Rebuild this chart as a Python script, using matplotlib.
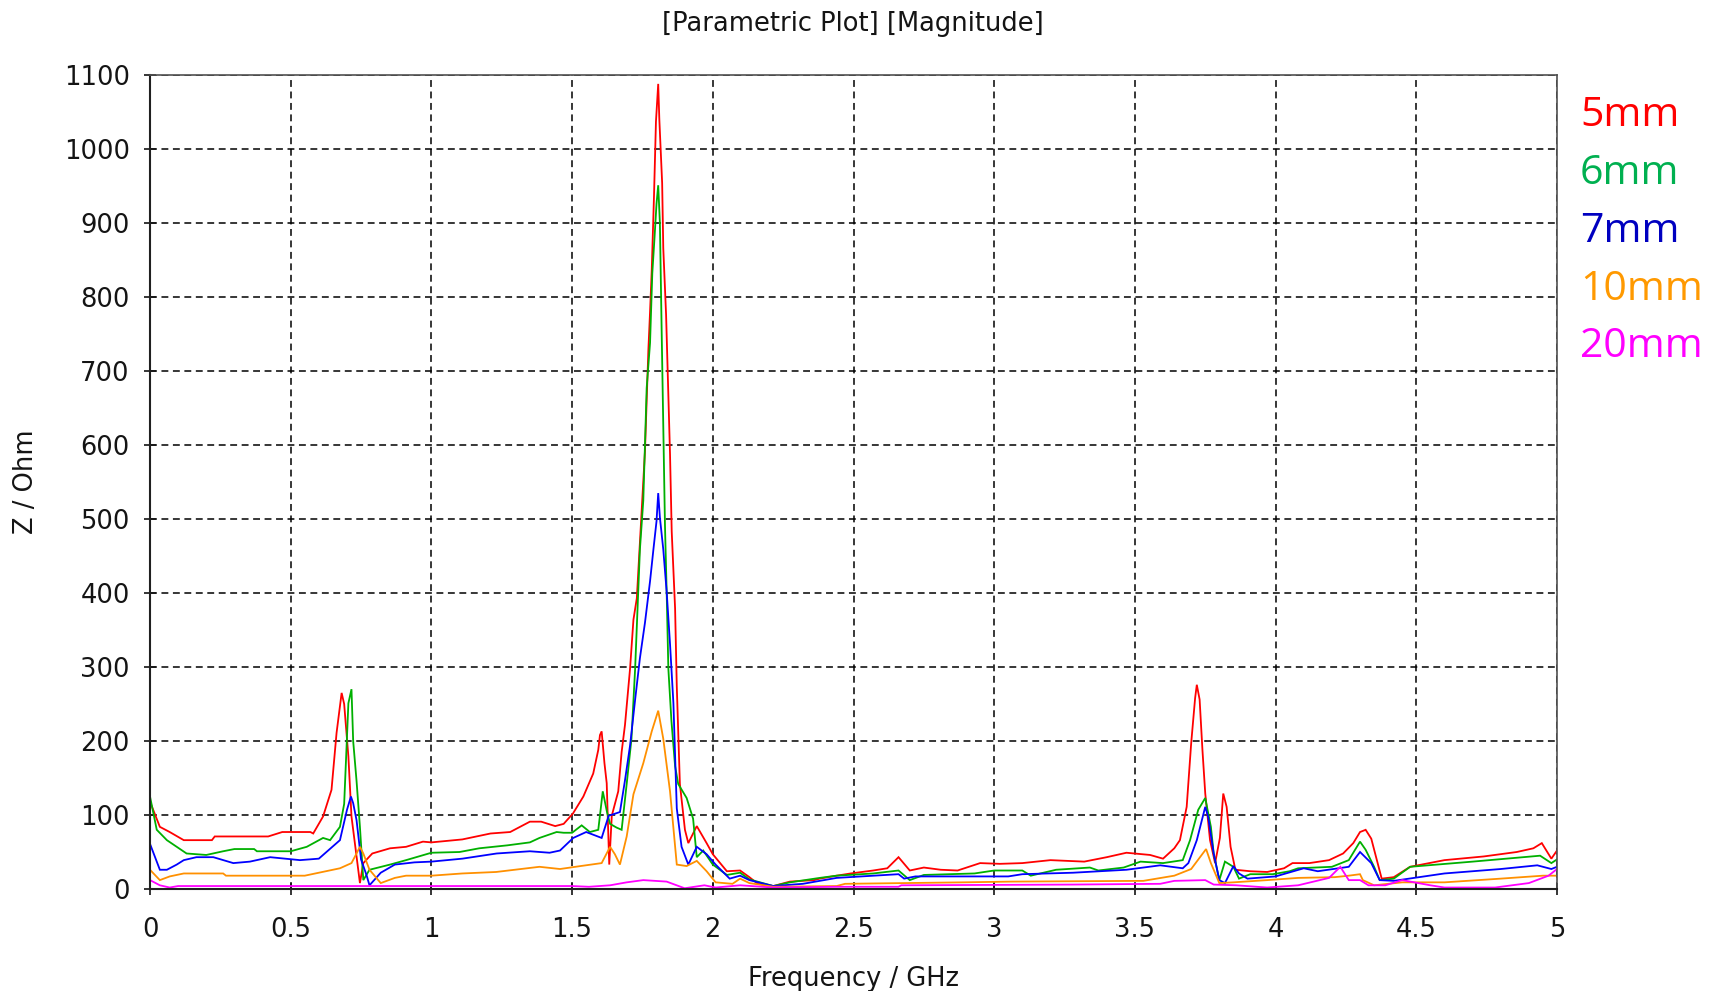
import matplotlib
matplotlib.use("Agg")
import matplotlib.pyplot as plt

# Impedance magnitude |Z| (Ohm) versus frequency (GHz) for several spacings
freq_5mm = [0.0, 0.035, 0.07, 0.12, 0.22, 0.23, 0.42, 0.47, 0.57, 0.58, 0.615, 0.645, 0.663, 0.681, 0.69,
            0.705, 0.716, 0.746, 0.758, 0.79, 0.853, 0.91, 0.97, 1.0, 1.11, 1.21, 1.28, 1.35, 1.39, 1.44,
            1.47, 1.503, 1.54, 1.575, 1.593, 1.599, 1.605, 1.615, 1.623, 1.632, 1.641, 1.664, 1.676, 1.688,
            1.706, 1.718, 1.73, 1.741, 1.759, 1.771, 1.777, 1.783, 1.791, 1.798, 1.806, 1.81, 1.82, 1.824,
            1.834, 1.848, 1.854, 1.866, 1.872, 1.883, 1.901, 1.913, 1.943, 1.978, 2.0, 2.05, 2.097, 2.13,
            2.16, 2.215, 2.274, 2.36, 2.38, 2.44, 2.49, 2.57, 2.62, 2.66, 2.7, 2.75, 2.81, 2.87, 2.95, 3.02,
            3.10, 3.2, 3.32, 3.4, 3.47, 3.554, 3.60, 3.64, 3.66, 3.684, 3.70, 3.714, 3.72, 3.73, 3.74, 3.75,
            3.767, 3.785, 3.802, 3.814, 3.826, 3.84, 3.857, 3.91, 3.97, 4.03, 4.06, 4.12, 4.19, 4.24, 4.276,
            4.3, 4.32, 4.34, 4.36, 4.377, 4.42, 4.478, 4.6, 4.74, 4.857, 4.916, 4.946, 4.98, 5.0]
z_5mm = [118, 84, 77, 66, 66, 71, 71, 77, 77, 75, 98, 134, 211, 265, 250,
         179, 98, 8, 35, 48, 55, 57, 64, 63, 67, 75, 77, 91, 91, 85,
         88, 102, 125, 156, 188, 208, 213, 170, 143, 33, 99, 132, 185, 222,
         298, 364, 393, 468, 592, 728, 780, 836, 936, 1037, 1088, 1040, 954, 866,
         776, 587, 483, 379, 274, 142, 80, 62, 85, 62, 47, 24, 25, 16,
         7, 4, 10, 12, 14, 18, 21, 25, 28, 43, 25, 29, 26, 25, 35, 34,
         35, 39, 37, 43, 49, 46, 41, 55, 66, 111, 197, 258, 276, 256, 188, 129,
         66, 35, 69, 129, 111, 57, 26, 24, 23, 28, 35, 35, 39, 48, 62,
         77, 80, 68, 39, 14, 16, 30, 39, 44, 50, 55, 62, 41, 52]

freq_6mm = [0.0, 0.024, 0.06, 0.095, 0.13, 0.2, 0.26, 0.3, 0.37, 0.38, 0.5, 0.557, 0.615, 0.64, 0.675,
            0.69, 0.705, 0.716, 0.722, 0.734, 0.746, 0.758, 0.78, 0.853, 0.91, 1.0, 1.1, 1.17, 1.27, 1.35,
            1.384, 1.445, 1.47, 1.5, 1.534, 1.563, 1.593, 1.609, 1.624, 1.635, 1.658, 1.676, 1.694, 1.711,
            1.724, 1.741, 1.753, 1.765, 1.777, 1.785, 1.793, 1.80, 1.806, 1.812, 1.818, 1.83, 1.836, 1.842,
            1.853, 1.866, 1.877, 1.907, 1.93, 1.943, 1.966, 2.0, 2.05, 2.097, 2.13, 2.215, 2.274, 2.38,
            2.44, 2.57, 2.66, 2.7, 2.75, 2.93, 3.0, 3.1, 3.13, 3.22, 3.34, 3.37, 3.46, 3.52, 3.6, 3.67,
            3.696, 3.725, 3.75, 3.77, 3.78, 3.8, 3.82, 3.85, 3.87, 3.91, 3.99, 4.05, 4.08, 4.2, 4.26, 4.3,
            4.32, 4.35, 4.37, 4.42, 4.478, 4.7, 4.94, 4.98, 5.0]
z_6mm = [125, 80, 66, 57, 48, 46, 51, 54, 54, 51, 51, 57, 69, 66, 84,
         115, 251, 270, 200, 146, 84, 12, 26, 33, 39, 49, 50, 55, 59, 63,
         69, 77, 76, 76, 86, 77, 80, 132, 104, 88, 83, 80, 142, 203,
         298, 459, 525, 677, 738, 832, 881, 926, 951, 900, 760, 492, 402, 298,
         227, 166, 142, 123, 95, 43, 52, 33, 19, 22, 13, 4, 9, 15,
         18, 21, 25, 12, 19, 21, 25, 25, 18, 26, 29, 25, 29, 37, 35, 39,
         66, 107, 123, 84, 48, 12, 37, 30, 14, 20, 20, 24, 28, 30, 39, 64,
         53, 30, 12, 14, 30, 37, 45, 35, 40]

freq_7mm = [0.0, 0.035, 0.06, 0.095, 0.12, 0.165, 0.225, 0.296, 0.355, 0.427, 0.533, 0.6, 0.675, 0.7,
            0.714, 0.722, 0.734, 0.75, 0.77, 0.78, 0.82, 0.87, 0.94, 1.0, 1.11, 1.232, 1.35, 1.42, 1.457,
            1.504, 1.55, 1.605, 1.63, 1.67, 1.688, 1.706, 1.724, 1.741, 1.759, 1.777, 1.789, 1.8, 1.806,
            1.812, 1.824, 1.836, 1.848, 1.86, 1.872, 1.889, 1.913, 1.943, 1.978, 2.01, 2.06, 2.097, 2.13,
            2.215, 2.32, 2.44, 2.66, 2.68, 2.72, 3.05, 3.1, 3.28, 3.47, 3.59, 3.67, 3.69, 3.72, 3.75, 3.76,
            3.78, 3.8, 3.82, 3.85, 3.87, 3.9, 4.0, 4.1, 4.15, 4.26, 4.3, 4.34, 4.37, 4.42, 4.6, 4.8, 4.93,
            4.98, 5.0]
z_7mm = [61, 26, 26, 33, 39, 43, 43, 35, 37, 43, 39, 41, 66, 107,
         125, 116, 93, 40, 18, 5, 22, 33, 36, 37, 41, 48, 51, 49, 52,
         69, 77, 69, 99, 104, 147, 194, 256, 312, 360, 416, 459, 497, 535,
         502, 459, 402, 331, 251, 109, 57, 33, 57, 47, 33, 14, 18, 12,
         4, 7, 15, 20, 14, 17, 17, 20, 22, 26, 32, 28, 35, 66, 111, 98,
         48, 12, 8, 31, 21, 14, 17, 28, 24, 30, 50, 35, 12, 11, 21, 27, 32,
         27, 30]

freq_10mm = [0.0, 0.035, 0.07, 0.12, 0.26, 0.27, 0.55, 0.675, 0.716, 0.734, 0.746, 0.758, 0.78, 0.82,
             0.87, 0.91, 1.0, 1.11, 1.23, 1.384, 1.457, 1.53, 1.605, 1.635, 1.652, 1.67, 1.694, 1.718,
             1.753, 1.783, 1.806, 1.824, 1.848, 1.872, 1.907, 1.943, 1.978, 2.01, 2.07, 2.097, 2.13, 2.215,
             2.44, 2.47, 2.89, 3.06, 3.53, 3.64, 3.7, 3.753, 3.77, 3.8, 3.85, 3.97, 4.08, 4.21, 4.26, 4.3,
             4.31, 4.35, 4.45, 4.6, 4.8, 4.95, 5.0]
z_10mm = [26, 12, 17, 21, 21, 18, 18, 28, 35, 48, 57, 48, 26, 8,
          15, 18, 18, 21, 23, 30, 27, 31, 35, 57, 47, 33, 71, 128,
          170, 213, 241, 203, 132, 33, 31, 38, 24, 9, 7, 14, 8, 3,
          4, 7, 9, 10, 11, 18, 27, 54, 35, 8, 9, 12, 15, 16, 18, 20,
          12, 5, 9, 9, 14, 18, 18]

freq_20mm = [0.0, 0.035, 0.07, 0.1, 1.5, 1.56, 1.635, 1.694, 1.753, 1.836, 1.9, 1.97, 2.01, 2.097, 2.215,
             2.44, 2.66, 2.67, 3.28, 3.59, 3.64, 3.75, 3.78, 3.86, 3.97, 4.08, 4.19, 4.23, 4.26, 4.3, 4.33,
             4.39, 4.45, 4.55, 4.6, 4.78, 4.9, 4.97, 5.0]
z_20mm = [12, 5, 2, 4, 4, 3, 5, 9, 12, 10, 1, 5, 2, 5, 2,
          3, 3, 5, 6, 7, 11, 12, 6, 5, 2, 5, 15, 30, 12, 12, 5,
          5, 12, 5, 2, 2, 8, 18, 27]

series_labels = ["5mm", "6mm", "7mm", "10mm", "20mm"]
line_colors = ["#ff0000", "#00b000", "#0000ff", "#ff9000", "#ff00ff"]
label_colors = ["#ff0000", "#00b050", "#0000c0", "#ff9900", "#ff00ff"]

x_ticks = [0, 0.5, 1, 1.5, 2, 2.5, 3, 3.5, 4, 4.5, 5]
x_tick_labels = ["0", "0.5", "1", "1.5", "2", "2.5", "3", "3.5", "4", "4.5", "5"]
y_ticks = [0, 100, 200, 300, 400, 500, 600, 700, 800, 900, 1000, 1100]

W, H = 1719, 991
fig = plt.figure(figsize=(W / 100, H / 100), dpi=100)
left, right, top, bottom = 150, 1557, 75, 889
ax = fig.add_axes([left / W, (H - bottom) / H, (right - left) / W, (bottom - top) / H])

data = [(freq_5mm, z_5mm), (freq_6mm, z_6mm), (freq_7mm, z_7mm),
        (freq_10mm, z_10mm), (freq_20mm, z_20mm)]
for (f, z), c in zip(data, line_colors):
    ax.plot(f, z, color=c, lw=1.3, solid_joinstyle="miter")

ax.set_xlim(0, 5)
ax.set_ylim(0, 1100)
ax.set_xticks(x_ticks)
ax.set_xticklabels(x_tick_labels)
ax.set_yticks(y_ticks)
ax.grid(True, color="black", linestyle=(0, (4.5, 3)), linewidth=1.1)

text_color = "#141414"
fsize = 18.5
tick_font = dict(family="DejaVu Sans", size=fsize)
for lab in ax.get_xticklabels() + ax.get_yticklabels():
    lab.set_fontfamily("DejaVu Sans")
    lab.set_fontsize(fsize)
    lab.set_color(text_color)
ax.tick_params(direction="inout", length=9, width=1.2, colors=text_color)
ax.tick_params(axis="x", pad=16)
ax.tick_params(axis="y", pad=10)
for s in ["left", "bottom"]:
    ax.spines[s].set_color("#202020")
    ax.spines[s].set_linewidth(1.5)
for s in ["top", "right"]:
    ax.spines[s].set_color("#505050")
    ax.spines[s].set_linewidth(1.2)

ax.set_xlabel("Frequency / GHz", fontdict=tick_font, color=text_color, labelpad=16)
ax.set_ylabel("Z / Ohm", fontdict=tick_font, color=text_color, labelpad=18)
fig.text(853 / W, 1 - 24 / H, "[Parametric Plot] [Magnitude]", ha="center", va="center",
         fontsize=fsize, family="DejaVu Sans", color=text_color)

# Series key on the right-hand side
key_y = [116, 174, 232, 290, 347]
for lab, c, y in zip(series_labels, label_colors, key_y):
    fig.text(1580 / W, 1 - y / H, lab, ha="left", va="center", fontsize=29.5,
             family="Open Sans", color=c)

fig.savefig("out.png", dpi=100)
